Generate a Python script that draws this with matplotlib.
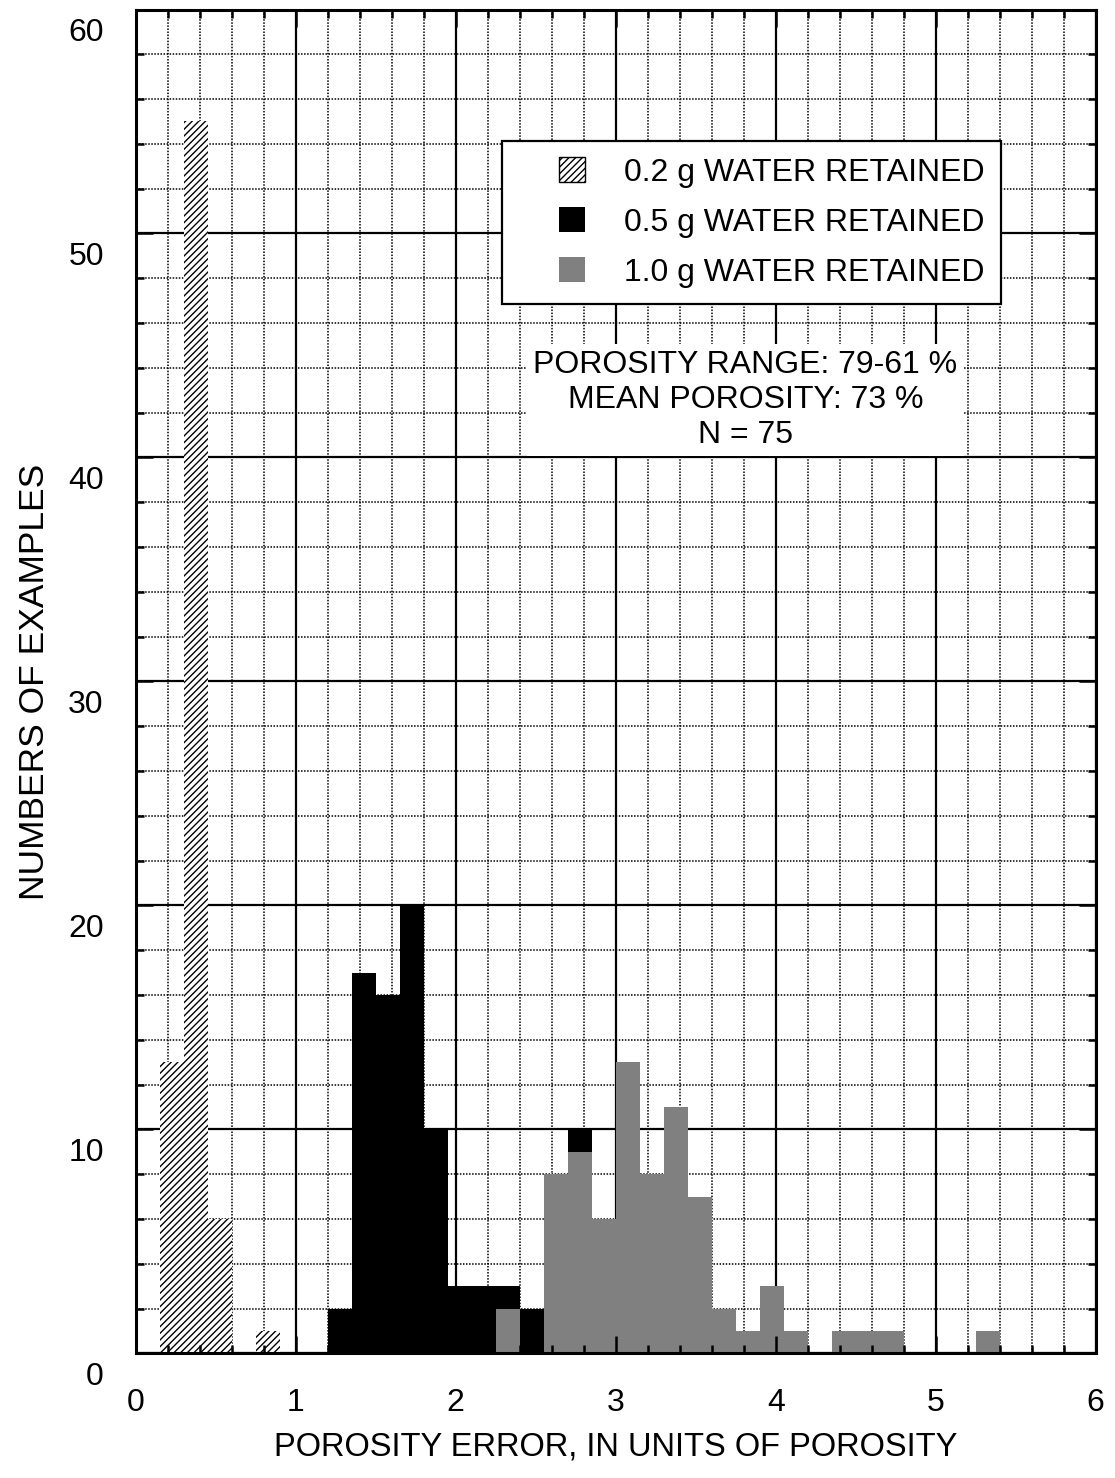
import numpy as np
import matplotlib.pyplot as plt
from matplotlib.patches import Rectangle
from matplotlib.container import BarContainer
from matplotlib.legend_handler import HandlerPatch
from matplotlib.transforms import ScaledTranslation

plt.rcParams['font.family'] = ['Liberation Sans', 'DejaVu Sans']
plt.rcParams['hatch.linewidth'] = 1.0

# histogram bins are 0.15 wide; each list holds the left edge of a bin
bin_width = 0.15
hatch_bins = [0.15, 0.30, 0.45, 0.75]
hatch_counts = [13, 55, 6, 1]
gray_bins = [2.25, 2.55, 2.70, 2.85, 3.00, 3.15, 3.30, 3.45, 3.60, 3.75,
             3.90, 4.05, 4.35, 4.50, 4.65, 5.25]
gray_counts = [2, 8, 9, 6, 13, 8, 11, 7, 2, 1, 3, 1, 1, 1, 1, 1]
black_bins = [1.20, 1.35, 1.50, 1.65, 1.80, 1.95, 2.10, 2.25, 2.40, 2.70]
black_counts = [2, 17, 16, 20, 10, 3, 3, 1, 2, 1]

series_labels = ['0.2 g WATER RETAINED', '0.5 g WATER RETAINED',
                 '1.0 g WATER RETAINED']
info_lines = ['POROSITY RANGE: 79-61 %', 'MEAN POROSITY: 73 %', 'N = 75']

W, H = 1115, 1478
fig = plt.figure(figsize=(W / 100, H / 100), dpi=100)
ax = fig.add_axes([135.7 / W, 1 - 1353.3 / H, 960 / W, (1353.3 - 9.5) / H])

ax.set_xlim(0, 6)
ax.set_ylim(0, 60)

# graph-paper grid, kept under the bars while tick marks stay on top
x_minor = np.arange(0, 6.001, 0.2)
y_minor = np.arange(0, 61, 2)
ax.vlines(x_minor, 0, 60, colors='black', lw=1.1, linestyles=(0, (1, 1)), zorder=0.5)
ax.hlines(y_minor, 0, 6, colors='black', lw=1.1, linestyles=(0, (1, 1)), zorder=0.5)
ax.vlines(range(7), 0, 60, colors='black', lw=1.6, zorder=0.6)
ax.hlines(range(0, 61, 10), 0, 6, colors='black', lw=1.6, zorder=0.6)

ax.bar(hatch_bins, hatch_counts, width=bin_width, align='edge',
       facecolor='white', edgecolor='black', linewidth=0, hatch='/////',
       label=series_labels[0], zorder=1)
gray_lookup = dict(zip(gray_bins, gray_counts))
black_bottom = [gray_lookup.get(b, 0) for b in black_bins]
ax.bar(black_bins, black_counts, width=bin_width, bottom=black_bottom,
       align='edge', color='black', linewidth=0, label=series_labels[1], zorder=1)
ax.bar(gray_bins, gray_counts, width=bin_width, align='edge',
       color='#808080', linewidth=0, label=series_labels[2], zorder=1)

ax.set_xticks(range(7))
ax.set_xticks(x_minor, minor=True)
ax.set_yticks(range(0, 61, 10))
ax.set_yticks(y_minor, minor=True)
ax.tick_params(which='both', direction='in', top=True, right=True,
               width=1.8, color='black', labelsize=23)
ax.tick_params(which='major', length=12)
ax.tick_params(which='minor', length=6)
ax.tick_params(axis='x', pad=25)
ax.tick_params(axis='y', pad=23)
for lab in ax.get_yticklabels():
    lab.set_transform(lab.get_transform() +
                      ScaledTranslation(0, -20 / 100, fig.dpi_scale_trans))
for sp in ax.spines.values():
    sp.set_linewidth(2.2)

ax.set_xlabel('POROSITY ERROR, IN UNITS OF POROSITY', fontsize=23.5, labelpad=10)
ax.set_ylabel('NUMBERS OF EXAMPLES', fontsize=25.5, labelpad=12)


def square_patch(legend, orig_handle, xdescent, ydescent, width, height, fontsize):
    # square key pushed to the right end of the handle slot
    return Rectangle((-xdescent + width - height, -ydescent), height, height)


def copy_bar_style(legend_handle, orig_handle):
    legend_handle.update_from(orig_handle[0])
    if orig_handle[0].get_hatch():
        legend_handle.set_linewidth(1.0)


leg = ax.legend(loc='upper right', bbox_to_anchor=(0.9014, 0.9021),
                borderaxespad=0, fontsize=23, frameon=True, fancybox=False,
                framealpha=1, edgecolor='black', borderpad=0.5,
                handlelength=2.07, handleheight=0.845, handletextpad=1.25,
                labelspacing=0.6,
                handler_map={BarContainer: HandlerPatch(patch_func=square_patch,
                                                        update_func=copy_bar_style)})
leg.get_frame().set_linewidth(1.6)
leg.set_zorder(5)

ax.text(0.635, 0.7094, '\n'.join(info_lines), transform=ax.transAxes,
        ha='center', va='center', fontsize=23, linespacing=1.2, zorder=4,
        bbox=dict(facecolor='white', edgecolor='none', boxstyle='square,pad=0.2'))

fig.savefig('out.png', dpi=100)
